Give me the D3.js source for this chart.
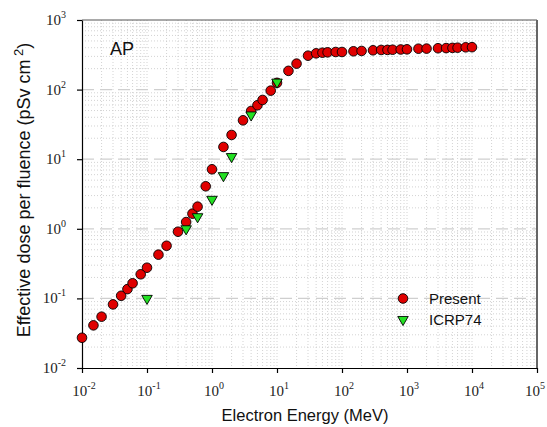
<!DOCTYPE html>
<html><head><meta charset="utf-8">
<script src="https://cdn.jsdelivr.net/npm/d3@7"></script>
<style>body{margin:0;background:#fff}svg{display:block}</style>
</head><body>
<svg id="c" width="547" height="427"></svg>
<script>
const presentE = [0.01,0.015,0.02,0.03,0.04,0.05,0.06,0.08,0.1,0.15,0.2,0.3,0.4,0.5,0.6,0.8,1,1.5,2,3,4,5,6,8,10,15,20,30,40,50,60,80,100,150,200,300,400,500,600,800,1000,1500,2000,3000,4000,5000,6000,8000,10000];
const presentD = [0.0272,0.041,0.0546,0.082,0.109,0.136,0.165,0.222,0.276,0.425,0.571,0.908,1.25,1.65,2.08,4.08,7.16,15,22.3,36.2,49.3,59.6,71,96.6,125,186,236,307,332,339,343,347,347,355,359,367,371,372,374,377,379,387,388,393,395,398,400,405,407];
const icrpE = [0.1,0.4,0.6,1,1.5,2,4,10];
const icrpD = [0.1,1.0,1.49,2.65,5.8,10.9,43.2,128];
const xTicks = [1e-2,1e-1,1,10,100,1e3,1e4,1e5];
const yTicks = [1e-2,1e-1,1,10,100,1e3];
const legendLabels = ["Present","ICRP74"];

const svg = d3.select("#c");
const L=82, R=537, T=20, B=368;
const x = d3.scaleLog().domain([1e-2,1e5]).range([L,R]);
const y = d3.scaleLog().domain([1e-2,1e3]).range([B,T]);

// minor grid
const g = svg.append("g");
const minorX=[], minorY=[];
for(let e=-2;e<5;e++) for(let m=1;m<10;m++){ minorX.push(m*Math.pow(10,e)); }
for(let e=-2;e<3;e++) for(let m=2;m<10;m++){ minorY.push(m*Math.pow(10,e)); }
g.selectAll(".vx").data(minorX.filter(v=>v>1e-2)).join("line")
  .attr("x1",d=>x(d)).attr("x2",d=>x(d)).attr("y1",T).attr("y2",B)
  .attr("stroke","#c8c8c8").attr("stroke-width",0.8).attr("stroke-dasharray","1,2");
g.selectAll(".hy").data(minorY).join("line")
  .attr("x1",L).attr("x2",R).attr("y1",d=>y(d)).attr("y2",d=>y(d))
  .attr("stroke","#c8c8c8").attr("stroke-width",0.8).attr("stroke-dasharray","1,2");
// major horizontal dashed
g.selectAll(".my").data(yTicks.slice(1,-1)).join("line")
  .attr("x1",L).attr("x2",R).attr("y1",d=>y(d)).attr("y2",d=>y(d))
  .attr("stroke","#cfcfcf").attr("stroke-width",1.2).attr("stroke-dasharray","12,6");

// frame
svg.append("line").attr("x1",L).attr("x2",R).attr("y1",T).attr("y2",T).attr("stroke","#555").attr("stroke-width",1.2);
svg.append("line").attr("x1",R).attr("x2",R).attr("y1",T).attr("y2",B).attr("stroke","#666").attr("stroke-width",2);

// axes
const fmt = d => "";
const xa = svg.append("g").attr("transform",`translate(0,${B})`)
  .call(d3.axisBottom(x).tickValues(xTicks).tickFormat(fmt).tickSize(5).tickSizeOuter(0));
const ya = svg.append("g").attr("transform",`translate(${L},0)`)
  .call(d3.axisLeft(y).tickValues(yTicks).tickFormat(fmt).tickSize(5).tickSizeOuter(0));
[xa,ya].forEach(a=>{a.select(".domain").attr("stroke","#000").attr("stroke-width",1.2);a.selectAll(".tick line").attr("stroke","#000").attr("stroke-width",1.2);});

function sup(sel, d){
  const e = Math.round(Math.log10(d));
  sel.append("tspan").text("10");
  sel.append("tspan").attr("font-size",10).attr("dy",-7).text(e);
}
xTicks.forEach((d,i)=>{
  const last = i===xTicks.length-1;
  const t = svg.append("text").attr("x",last?545:x(d)+2).attr("y",396).attr("text-anchor",last?"end":"middle")
    .attr("font-family","Liberation Serif, Times New Roman, serif").attr("font-size",15).attr("fill","#222");
  sup(t,d);
});
yTicks.forEach(d=>{
  const t = svg.append("text").attr("x",66).attr("y",y(d)+5).attr("text-anchor","end")
    .attr("font-family","Liberation Serif, Times New Roman, serif").attr("font-size",15).attr("fill","#222");
  sup(t,d);
});

// titles
svg.append("text").attr("x",305).attr("y",421).attr("text-anchor","middle")
  .attr("font-family","Liberation Sans, Arial, sans-serif").attr("font-size",16.5).attr("fill","#111")
  .text("Electron Energy (MeV)");
const yt = svg.append("text").attr("transform","translate(30,190) rotate(-90)").attr("text-anchor","middle")
  .attr("font-family","Liberation Sans, Arial, sans-serif").attr("font-size",18).attr("fill","#111");
yt.append("tspan").text("Effective dose per fluence (pSv cm");
yt.append("tspan").attr("font-size",13).attr("dy",-7).text(" 2");
yt.append("tspan").attr("dy",7).text(")");

svg.append("text").attr("x",110).attr("y",55).attr("font-family","Liberation Sans, Arial, sans-serif")
  .attr("font-size",18).attr("fill","#111").text("AP");

// data
const present = presentE.map((e,i)=>({e,d:presentD[i]}));
const icrp = icrpE.map((e,i)=>({e,d:icrpD[i]}));
svg.append("g").selectAll("circle").data(present).join("circle")
  .attr("cx",p=>x(p.e)).attr("cy",p=>y(p.d)).attr("r",4.8)
  .attr("fill","#e00000").attr("stroke","#000").attr("stroke-width",0.9);
const tri = d3.symbol().type(d3.symbolTriangle).size(48);
svg.append("g").selectAll("path").data(icrp).join("path")
  .attr("transform",p=>`translate(${x(p.e)},${y(p.d)}) rotate(180)`).attr("d",tri)
  .attr("fill","#22e022").attr("stroke","#000").attr("stroke-width",0.9);

// legend
const lg = svg.append("g");
lg.append("circle").attr("cx",403).attr("cy",298.5).attr("r",4.8).attr("fill","#e00000").attr("stroke","#000").attr("stroke-width",0.9);
lg.append("path").attr("transform","translate(403,319.5) rotate(180)").attr("d",tri).attr("fill","#22e022").attr("stroke","#000").attr("stroke-width",0.9);
lg.selectAll("text").data(legendLabels).join("text").attr("x",429).attr("y",(d,i)=>304+i*21)
  .attr("font-family","Liberation Sans, Arial, sans-serif").attr("font-size",15).attr("fill","#111").text(d=>d);
</script>
</body></html>
